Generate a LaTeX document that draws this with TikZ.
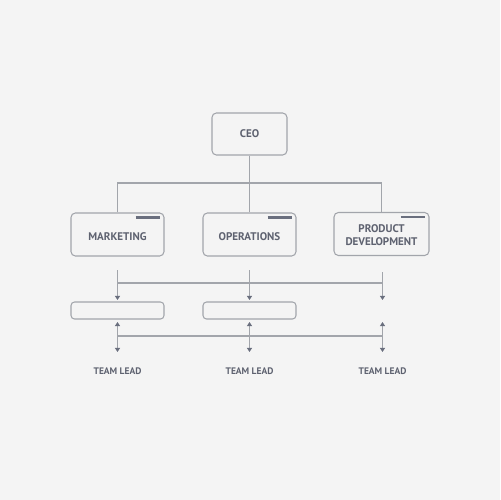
\documentclass[tikz,border=0pt]{standalone}
\usepackage{fontspec}
\setmainfont{PT Sans}
\usetikzlibrary{arrows.meta}
\definecolor{paper}{HTML}{F4F4F4}
\definecolor{edge}{HTML}{A2A5AB}
\definecolor{ink}{HTML}{5E6270}
\definecolor{bar}{HTML}{6A6F7E}

\begin{document}
\begin{tikzpicture}[x=0.02cm, y=-0.02cm,
        box/.style={draw=edge, fill=paper, rounded corners=2.5pt, line width=0.6pt,
            text=ink, font=\fontsize{6.3}{7.2}\selectfont\bfseries, align=center,
            inner sep=0pt, minimum width=1.86cm, minimum height=0.86cm},
        wire/.style={draw=edge, line width=0.6pt},
        tip/.style={-{Triangle[length=2.3pt, width=2.8pt, color=bar]}},
        twotip/.style={{Triangle[length=2.3pt, width=2.8pt, color=bar]}-{Triangle[length=2.3pt, width=2.8pt, color=bar]}},
        lead/.style={text=ink, font=\fontsize{5.4}{6}\selectfont\bfseries, inner sep=0pt}]
        \fill[paper] (0, 0) rectangle (500, 500);
        % top level
        \node[box, minimum width=1.5cm, minimum height=0.84cm] (ceo) at (249.5, 134) {CEO};
        \node[box] (mkt) at (117.5, 234.5) {\raisebox{-3.4pt}[0pt][0pt]{MARKETING}};
        \node[box] (ops) at (249.5, 234.5) {\raisebox{-3.4pt}[0pt][0pt]{OPERATIONS}};
        \node[box, minimum width=1.9cm] (prd) at (381.5, 234) {\raisebox{-6.8pt}[0pt][0pt]{\shortstack{PRODUCT\\DEVELOPMENT}}};
        \coordinate (hub) at (250, 183);
        \draw[wire] (ceo.south) -- (ops.north);
        \draw[wire] (mkt.north) |- (hub) -| (prd.north);
        \foreach \b in {mkt, ops, prd} {
            \draw[bar, line width=1.5pt] ([xshift=-0.58cm, yshift=-0.1cm]\b.north east)
                -- ([xshift=-0.1cm, yshift=-0.1cm]\b.north east);
        }
        % lower level
        \node[box, minimum height=0.34cm, rounded corners=2pt] (slota) at (117.5, 310.5) {};
        \node[box, minimum height=0.34cm, rounded corners=2pt] (slotb) at (249.5, 310.5) {};
        \foreach \n/\x/\s in {a/117.5/270, b/249.5/270, c/382.5/272} {
            \coordinate (top\n) at (\x, \s);
            \coordinate (in\n) at (\x, 300);
            \coordinate (out\n) at (\x, 322);
            \coordinate (end\n) at (\x, 352);
            \draw[wire, tip] (top\n) -- (in\n);
            \draw[wire, twotip] (out\n) -- (end\n);
            \node[lead] (lead\n) at (\x, 371) {TEAM LEAD};
        }
        \draw[wire] (117.5, 283) coordinate (ra) -- (382.5, 283) coordinate (rc);
        \draw[wire] (117.5, 336) coordinate (sa) -- (382.5, 336) coordinate (sc);
    \end{tikzpicture}
\end{document}
